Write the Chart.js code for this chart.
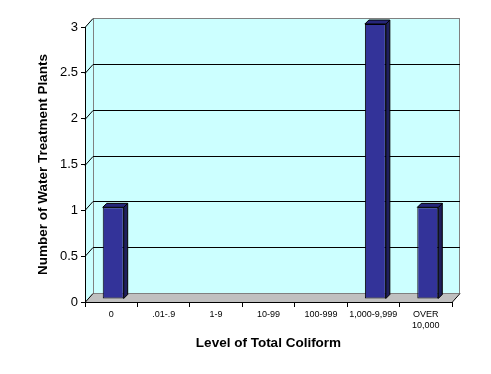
<!DOCTYPE html>
<html>
<head>
<meta charset="utf-8">
<script src="https://cdn.jsdelivr.net/npm/chart.js@4/dist/chart.umd.min.js"></script>
<style>
    html, body { margin: 0; padding: 0; background: #ffffff; }
    #wrap { width: 491px; height: 374px; }
</style>
</head>
<body>
<div id="wrap"><canvas id="coliformChart" width="491" height="374"></canvas></div>
<script>
// Chart data
const categories = ['0', '.01-.9', '1-9', '10-99', '100-999', '1,000-9,999', ['OVER', '10,000']];
const plantCounts = [1, 0, 0, 0, 0, 3, 1];
const yTicks = [0, 0.5, 1, 1.5, 2, 2.5, 3];

// Colours
const WALL_CYAN = '#ccffff';
const FLOOR_GRAY = '#c0c0c0';
const EDGE_GRAY = '#808080';
const BAR_BLUE = '#333399';
const BAR_SIDE = '#1f1f5c';
const BAR_TOP = '#26267a';

// Depth of the fake 3D box and of the bars
const DEPTH_X = 8;
const DEPTH_Y = -9;
const BAR_SHIFT_X = 2;
const BAR_SHIFT_Y = -3;
const BAR_DEPTH = 4;

const FONT = 'Arial, "Liberation Sans", sans-serif';

// Draws walls, floor and back-wall gridlines before the scales
const boxPlugin = {
    id: 'box3d',
    beforeDraw(chart) {
        const ctx = chart.ctx;
        const area = chart.chartArea;
        const yScale = chart.scales.y;
        const l = area.left, r = area.right, t = area.top, b = area.bottom;

        ctx.save();
        // left wall + back wall
        ctx.fillStyle = WALL_CYAN;
        ctx.beginPath();
        ctx.moveTo(l, b);
        ctx.lineTo(l, t);
        ctx.lineTo(l + DEPTH_X, t + DEPTH_Y);
        ctx.lineTo(r + DEPTH_X, t + DEPTH_Y);
        ctx.lineTo(r + DEPTH_X, b + DEPTH_Y);
        ctx.lineTo(l + DEPTH_X, b + DEPTH_Y);
        ctx.closePath();
        ctx.fill();

        // floor
        ctx.fillStyle = FLOOR_GRAY;
        ctx.beginPath();
        ctx.moveTo(l, b);
        ctx.lineTo(l + DEPTH_X, b + DEPTH_Y);
        ctx.lineTo(r + DEPTH_X, b + DEPTH_Y);
        ctx.lineTo(r, b);
        ctx.closePath();
        ctx.fill();

        // back wall outline
        ctx.strokeStyle = EDGE_GRAY;
        ctx.lineWidth = 1;
        ctx.strokeRect(l + DEPTH_X + 0.5, t + DEPTH_Y + 0.5, r - l - 1, b - t);

        // gridlines on the back wall and diagonals on the left wall
        ctx.strokeStyle = '#000000';
        yTicks.forEach(v => {
            const y = Math.round(yScale.getPixelForValue(v)) + 0.5;
            ctx.beginPath();
            ctx.moveTo(l, y);
            ctx.lineTo(l + DEPTH_X, y + DEPTH_Y);
            if (v > 0 && v < 3) {
                ctx.lineTo(r + DEPTH_X, y + DEPTH_Y);
            }
            ctx.stroke();
        });

        // right floor edge
        ctx.beginPath();
        ctx.moveTo(r, b + 0.5);
        ctx.lineTo(r + DEPTH_X, b + DEPTH_Y + 0.5);
        ctx.stroke();
        ctx.restore();
    },
    beforeDatasetsDraw(chart) {
        const ctx = chart.ctx;
        ctx.save();
        ctx.translate(BAR_SHIFT_X, BAR_SHIFT_Y);
        // side and top faces of each bar
        const meta = chart.getDatasetMeta(0);
        meta.data.forEach((bar, i) => {
            if (!plantCounts[i]) return;
            const half = bar.width / 2;
            const x0 = bar.x - half, x1 = bar.x + half;
            const top = bar.y, base = bar.base;
            ctx.fillStyle = BAR_SIDE;
            ctx.strokeStyle = '#000000';
            ctx.lineWidth = 1;
            ctx.beginPath();
            ctx.moveTo(x1, base);
            ctx.lineTo(x1, top);
            ctx.lineTo(x1 + BAR_DEPTH, top - BAR_DEPTH);
            ctx.lineTo(x1 + BAR_DEPTH, base - BAR_DEPTH);
            ctx.closePath();
            ctx.fill();
            ctx.stroke();
            ctx.fillStyle = BAR_TOP;
            ctx.beginPath();
            ctx.moveTo(x0, top);
            ctx.lineTo(x0 + BAR_DEPTH, top - BAR_DEPTH);
            ctx.lineTo(x1 + BAR_DEPTH, top - BAR_DEPTH);
            ctx.lineTo(x1, top);
            ctx.closePath();
            ctx.fill();
            ctx.stroke();
        });
    },
    afterDatasetsDraw(chart) {
        chart.ctx.restore();
    }
};

const config = {
    type: 'bar',
    data: {
        labels: categories,
        datasets: [{
            data: plantCounts,
            backgroundColor: BAR_BLUE,
            borderColor: '#000000',
            borderWidth: 1,
            borderSkipped: false,
            categoryPercentage: 1,
            barPercentage: 0.4
        }]
    },
    options: {
        responsive: false,
        animation: false,
        events: [],
        layout: { padding: { top: 27, right: 39, left: 0, bottom: 0 } },
        plugins: {
            legend: { display: false },
            tooltip: { enabled: false }
        },
        scales: {
            x: {
                afterFit(scale) { scale.height = 72; },
                border: { display: true, color: '#000000', width: 1 },
                grid: {
                    display: true,
                    offset: true,
                    drawOnChartArea: false,
                    drawTicks: true,
                    tickLength: 5,
                    color: '#000000'
                },
                ticks: {
                    color: '#000000',
                    font: { family: FONT, size: 9 },
                    padding: 2,
                    maxRotation: 0,
                    autoSkip: false
                },
                title: {
                    display: true,
                    text: 'Level of Total Coliform',
                    color: '#000000',
                    font: { family: FONT, size: 13.5, weight: 'bold' },
                    padding: { top: 0, bottom: 23 }
                }
            },
            y: {
                min: 0,
                max: 3,
                afterFit(scale) { scale.width = 85; },
                border: { display: true, color: '#000000', width: 1 },
                grid: {
                    display: true,
                    drawOnChartArea: false,
                    drawTicks: true,
                    tickLength: 4,
                    color: '#000000'
                },
                ticks: {
                    stepSize: 0.5,
                    color: '#000000',
                    font: { family: FONT, size: 13 },
                    padding: 3,
                    callback: value => String(value)
                },
                title: {
                    display: true,
                    text: 'Number of Water Treatment Plants',
                    color: '#000000',
                    font: { family: FONT, size: 13.5, weight: 'bold' },
                    padding: { top: 35, bottom: 0 }
                }
            }
        }
    },
    plugins: [boxPlugin]
};

new Chart(document.getElementById('coliformChart'), config);
</script>
</body>
</html>
